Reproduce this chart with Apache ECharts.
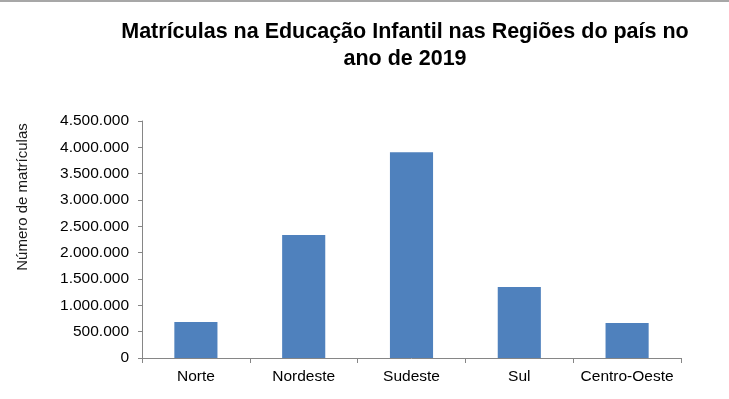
<!DOCTYPE html>
<html>
<head>
<meta charset="utf-8">
<script src="https://cdn.jsdelivr.net/npm/echarts@6/dist/echarts.min.js"></script>
<style>
html,body{margin:0;padding:0;background:#fff;}
#c{width:729px;height:399px;}
</style>
</head>
<body>
<div id="c"></div>
<script>
var categories = ['Norte', 'Nordeste', 'Sudeste', 'Sul', 'Centro-Oeste'];
var matriculas = [683000, 2335000, 3906000, 1348000, 665000];
var yTicks = { min: 0, max: 4500000, interval: 500000 };
var titleText = 'Matrículas na Educação Infantil nas Regiões do país no\nano de 2019';
var yName = 'Número de matrículas';

function fmt(v) {
  return String(Math.round(v)).replace(/\B(?=(\d{3})+(?!\d))/g, '.');
}

var chart = echarts.init(document.getElementById('c'), null, { renderer: 'canvas' });
var font = 'Liberation Sans, Arial, sans-serif';
chart.setOption({
  animation: false,
  backgroundColor: '#ffffff',
  title: {
    text: titleText,
    left: 400,
    top: 14,
    textAlign: 'center',
    textStyle: {
      fontFamily: font,
      fontWeight: 'bold',
      fontSize: 21.5,
      lineHeight: 27,
      color: '#000000'
    }
  },
  graphic: [
    {
      type: 'line',
      shape: { x1: 0, y1: 1, x2: 729, y2: 1 },
      style: { stroke: '#8a8a8a', lineWidth: 1.5 }
    },
    {
      type: 'text',
      x: 23,
      y: 197,
      rotation: Math.PI / 2,
      style: {
        text: yName,
        fontFamily: font,
        fontSize: 15,
        fill: '#1a1a1a',
        align: 'center',
        verticalAlign: 'middle'
      }
    }
  ],
  grid: { left: 142, top: 121, right: 48, bottom: 41, containLabel: false },
  xAxis: {
    type: 'category',
    data: categories,
    axisLine: { lineStyle: { color: '#868686', width: 1 } },
    axisTick: { show: true, length: 5, lineStyle: { color: '#868686' } },
    axisLabel: { interval: 0, color: '#000000', fontFamily: font, fontSize: 15.5, margin: 11 }
  },
  yAxis: {
    type: 'value',
    min: yTicks.min,
    max: yTicks.max,
    interval: yTicks.interval,
    axisLine: { show: true, lineStyle: { color: '#868686', width: 1 } },
    axisTick: { show: true, length: 4, lineStyle: { color: '#868686' } },
    splitLine: { show: false },
    axisLabel: {
      color: '#000000',
      fontFamily: font,
      fontSize: 15.5,
      margin: 13,
      formatter: function (v) { return fmt(v); }
    }
  },
  series: [{
    type: 'bar',
    data: matriculas,
    barWidth: '40%',
    itemStyle: { color: '#4F81BD' }
  }]
});
</script>
</body>
</html>
